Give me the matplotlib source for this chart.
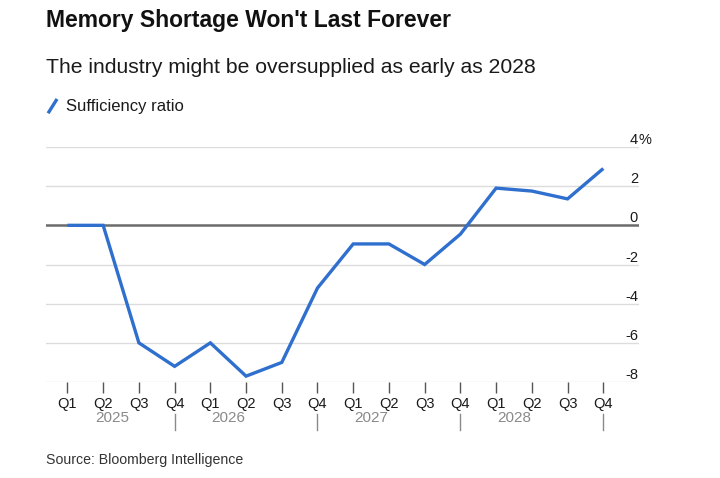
import matplotlib
matplotlib.use("Agg")
import matplotlib.pyplot as plt
from matplotlib.lines import Line2D
import matplotlib.transforms as mtransforms

plt.rcParams['font.family'] = ['Liberation Sans', 'DejaVu Sans']

quarters = ["Q1", "Q2", "Q3", "Q4"] * 4
years = ["2025", "2026", "2027", "2028"]
year_centers = [1.25, 4.5, 8.5, 12.5]
year_separators = [3, 7, 11, 15]
sufficiency = [0.0, 0.0, -6.0, -7.2, -6.0, -7.7, -7.0, -3.2,
               -0.95, -0.95, -2.0, -0.45, 1.9, 1.75, 1.35, 2.9]
y_ticks = [4, 2, 0, -2, -4, -6, -8]

LINE_COLOR = "#2f6fce"
TEXT = "#1a1a1a"

fig = plt.figure(figsize=(7.2, 4.78), dpi=100)
fig.patch.set_facecolor("white")
ax = fig.add_axes([0.0639, 0.2008, 0.8236, 0.4917])

x = list(range(len(sufficiency)))
ax.set_xlim(-0.6, 16.0)
ax.set_ylim(-8, 4)

for v in y_ticks:
    if v == 0:
        continue
    ax.axhline(v, color="#dcdcdc", lw=1.0, zorder=1)
ax.axhline(0, color="#6b6b6b", lw=1.8, zorder=2)

ax.plot(x, sufficiency, color=LINE_COLOR, lw=2.4, zorder=3,
        solid_joinstyle="miter", solid_capstyle="butt")

for s in ax.spines.values():
    s.set_visible(False)
ax.set_yticks([])
ax.set_xticks(x)
ax.set_xticklabels(quarters, fontsize=10.5, color=TEXT)
ax.tick_params(axis="x", length=8, width=1, color="#555555", pad=3)

# y labels on the right, above gridlines
trans_r = mtransforms.blended_transform_factory(ax.transAxes, ax.transData)
for v in y_ticks:
    lbl = f"{v}"
    ax.text(0.9985, v + 0.35, lbl, transform=trans_r, ha="right", va="center",
            fontsize=10.5, color=TEXT)
    if v == max(y_ticks):
        ax.text(0.9985, v + 0.35, "%", transform=trans_r, ha="left",
                va="center", fontsize=10.5, color=TEXT)

# year labels and separators
trans_x = mtransforms.blended_transform_factory(ax.transData, ax.transAxes)
for yr, c in zip(years, year_centers):
    ax.text(c, -0.155, yr, transform=trans_x, ha="center", va="center",
            fontsize=11, color="#8a8a8a")
for s in year_separators:
    ax.plot([s, s], [-0.135, -0.205], transform=trans_x, color="#8a8a8a",
            lw=1.0, clip_on=False)

# titles
fig.text(0.0639, 0.958, "Memory Shortage Won't Last Forever", fontsize=16.5,
         fontweight="bold", color="#111111", ha="left", va="center")
fig.text(0.0639, 0.858, "The industry might be oversupplied as early as 2028",
         fontsize=15.2, color=TEXT, ha="left", va="center")

# legend
fig.add_artist(Line2D([0.068, 0.078], [0.766, 0.79], color=LINE_COLOR, lw=2.4,
                      transform=fig.transFigure))
fig.text(0.092, 0.777, "Sufficiency ratio", fontsize=12, color=TEXT,
         ha="left", va="center")

fig.text(0.0639, 0.038, "Source: Bloomberg Intelligence", fontsize=10.2,
         color="#333333", ha="left", va="center")

fig.savefig("out.png", dpi=100, facecolor="white")
